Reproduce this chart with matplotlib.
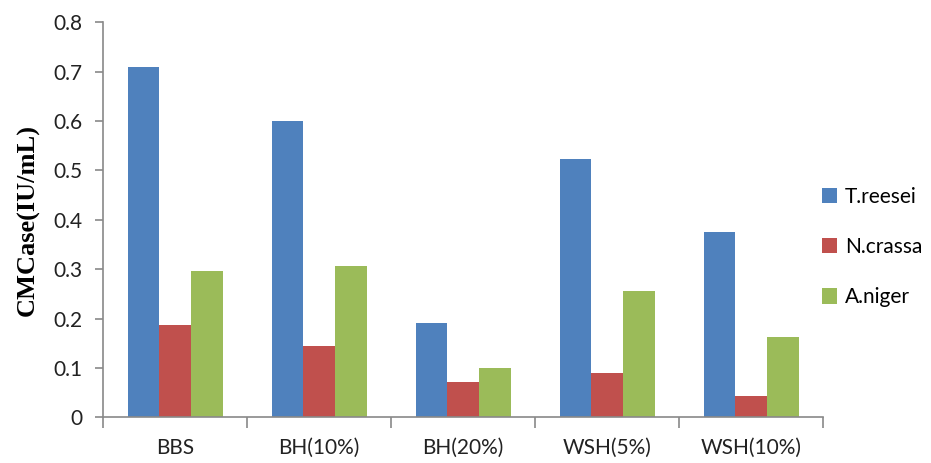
import matplotlib
matplotlib.use("Agg")
import matplotlib.pyplot as plt
import numpy as np
from matplotlib.patches import Patch

categories = ["BBS", "BH(10%)", "BH(20%)", "WSH(5%)", "WSH(10%)"]
series_names = ["T.reesei", "N.crassa", "A.niger"]
t_reesei = [0.71, 0.60, 0.192, 0.523, 0.376]
n_crassa = [0.187, 0.145, 0.071, 0.089, 0.044]
a_niger = [0.296, 0.306, 0.099, 0.256, 0.163]
y_ticks = [0, 0.1, 0.2, 0.3, 0.4, 0.5, 0.6, 0.7, 0.8]
y_tick_labels = ["0", "0.1", "0.2", "0.3", "0.4", "0.5", "0.6", "0.7", "0.8"]

colors = ["#4F81BD", "#C0504D", "#9BBB59"]
axis_grey = "#898989"
text_font = ["Lato", "DejaVu Sans"]

fig = plt.figure(figsize=(9.31, 4.63), dpi=100)
ax = fig.add_axes([103.3 / 931, (463 - 417.3) / 463, 720 / 931, 395 / 463])

x = np.arange(len(categories))
bw = 0.22
for i, (vals, c) in enumerate(zip([t_reesei, n_crassa, a_niger], colors)):
    ax.bar(x + (i - 1) * bw, vals, width=bw, color=c, edgecolor="none")

ax.set_xlim(-0.5, len(categories) - 0.5)
ax.set_ylim(0, 0.8)

for s in ["top", "right"]:
    ax.spines[s].set_visible(False)
for s in ["left", "bottom"]:
    ax.spines[s].set_color(axis_grey)
    ax.spines[s].set_linewidth(1.2)

ax.set_yticks(y_ticks)
ax.set_yticklabels(y_tick_labels, fontfamily=text_font, fontsize=15, color="#222222")
ax.tick_params(axis="y", direction="out", length=6, width=1.2, color=axis_grey, pad=9)

# category labels centred, tick marks on category boundaries
ax.set_xticks(x)
ax.set_xticklabels(categories, fontfamily=text_font, fontsize=15, color="#222222")
ax.tick_params(axis="x", which="major", length=0, pad=15)
ax.set_xticks(np.arange(len(categories) + 1) - 0.5, minor=True)
ax.tick_params(axis="x", which="minor", direction="out", length=8, width=1.2, color=axis_grey)

ax.set_ylabel("CMCase(IU/mL)", fontfamily="Liberation Serif", fontweight="bold",
              fontsize=19, labelpad=10)

handles = [Patch(facecolor=c, edgecolor="none") for c in colors]
fig.legend(handles, series_names, loc="center left",
           bbox_to_anchor=(803 / 931, 1 - 247 / 463), frameon=False,
           prop={"family": text_font, "size": 15},
           handlelength=0.75, handleheight=0.75, handletextpad=0.35,
           labelspacing=1.45)

fig.savefig("out.png", dpi=100)
